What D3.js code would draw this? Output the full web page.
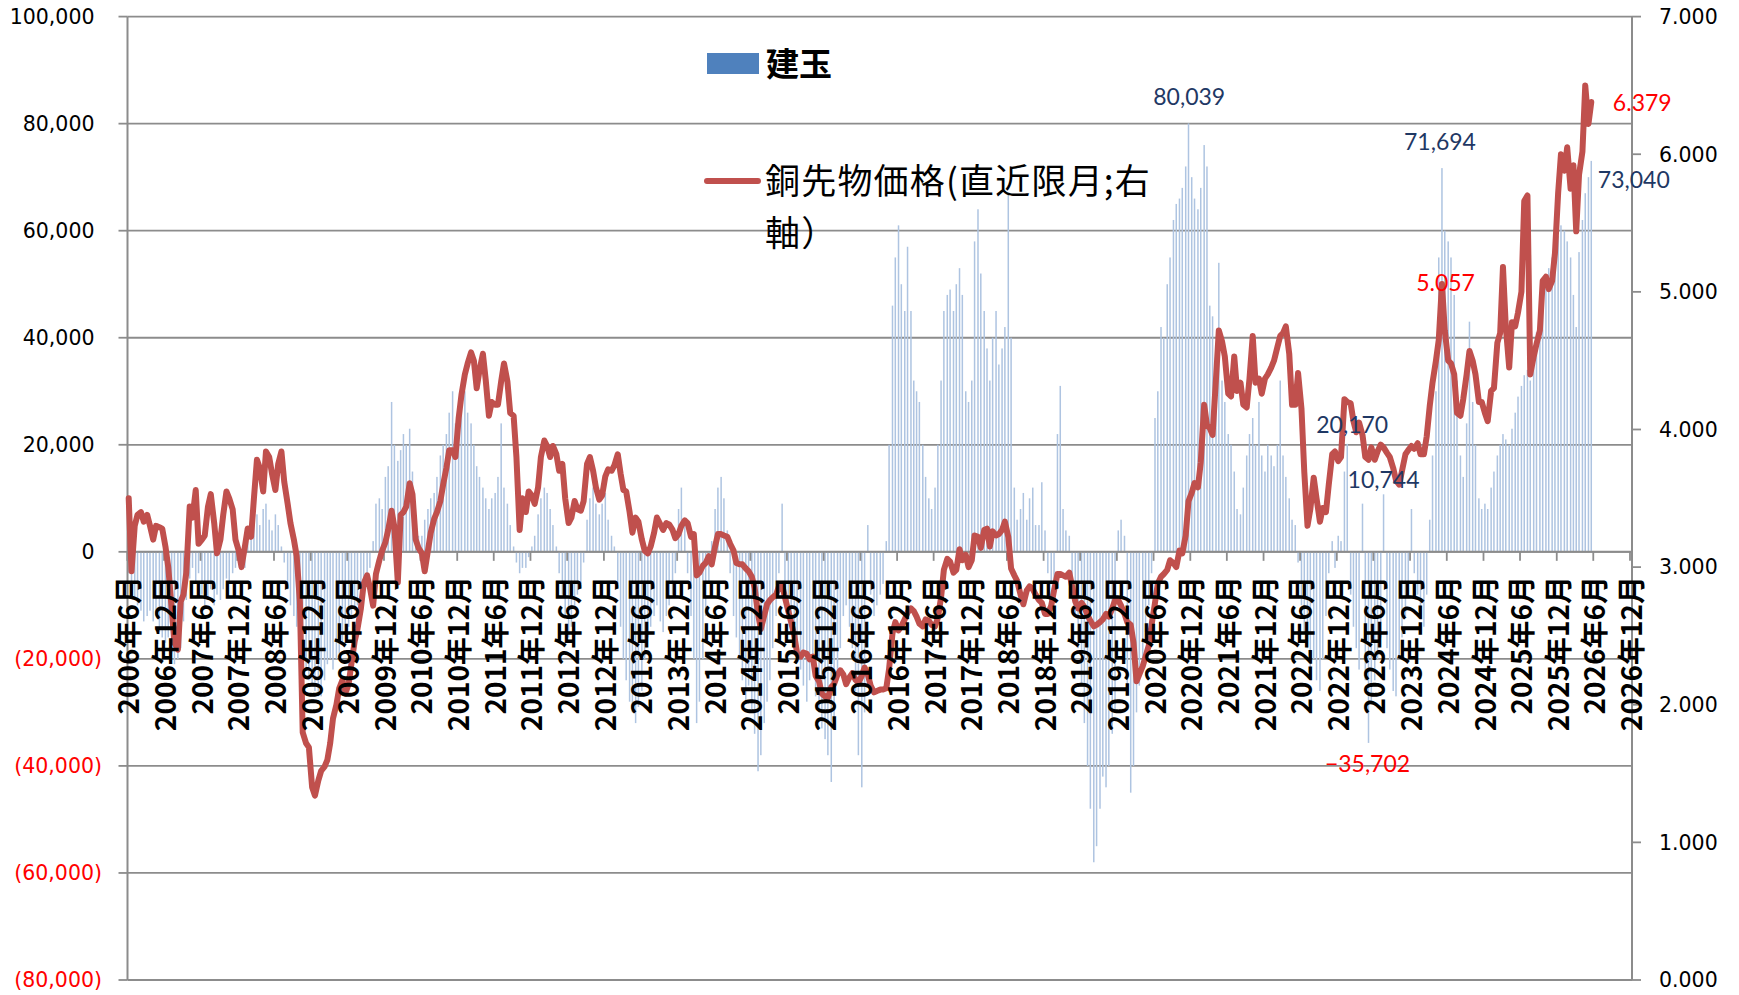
<!DOCTYPE html>
<html><head><meta charset="utf-8">
<script src="https://cdn.jsdelivr.net/npm/d3@7"></script>
<style>body{margin:0;background:#fff}svg{display:block}</style>
</head><body>
<svg id="chart" width="1739" height="995"></svg>
<script>
// ---- DATA: two readings per month (around the 8th and the 22nd), June 2006 .. May 2026 ----
// Copper futures price (nearest contract, right axis)
const priceY2006 = [3.50,2.97,3.30,3.38,3.40,3.33,3.38,3.30,3.20,3.30,3.29,3.28,3.15,3.00];
const priceY2007 = [2.70,2.45,2.40,2.75,2.80,2.96,3.44,3.36,3.56,3.17,3.20,3.23,3.44,3.53,3.32,3.10,3.20,3.38,3.55,3.50,3.42,3.20,3.12,3.00];
const priceY2008 = [3.15,3.28,3.22,3.50,3.78,3.72,3.55,3.84,3.80,3.68,3.56,3.75,3.84,3.62,3.46,3.32,3.20,3.08,2.75,1.80,1.72,1.69,1.40,1.34];
const priceY2009 = [1.45,1.52,1.55,1.60,1.72,1.90,2.00,2.12,2.18,2.08,2.15,2.30,2.46,2.55,2.70,2.88,2.94,2.85,2.72,2.95,3.05,3.12,3.18,3.27];
const priceY2010 = [3.41,3.29,2.89,3.38,3.40,3.44,3.61,3.53,3.20,3.14,3.10,2.97,3.12,3.25,3.35,3.40,3.48,3.60,3.72,3.85,3.85,3.80,4.08,4.25];
const priceY2011 = [4.40,4.48,4.56,4.50,4.30,4.43,4.55,4.36,4.10,4.20,4.18,4.18,4.35,4.48,4.35,4.12,4.10,3.80,3.27,3.50,3.40,3.55,3.52,3.46];
const priceY2012 = [3.58,3.80,3.92,3.88,3.80,3.88,3.82,3.70,3.75,3.50,3.32,3.36,3.48,3.42,3.41,3.48,3.75,3.80,3.70,3.58,3.49,3.52,3.66,3.71];
const priceY2013 = [3.70,3.74,3.82,3.68,3.56,3.55,3.40,3.25,3.36,3.33,3.20,3.12,3.10,3.15,3.25,3.36,3.31,3.27,3.32,3.31,3.27,3.21,3.24,3.30];
const priceY2014 = [3.34,3.32,3.22,3.24,2.94,2.96,3.01,3.03,3.08,3.02,3.15,3.24,3.24,3.23,3.22,3.17,3.12,3.03,3.02,3.02,2.99,2.97,2.93,2.85];
const priceY2015 = [2.66,2.55,2.65,2.73,2.76,2.78,2.80,2.86,2.87,2.78,2.68,2.60,2.50,2.37,2.35,2.38,2.37,2.33,2.35,2.21,2.17,2.08,2.06,2.05];
const priceY2016 = [2.13,2.15,2.22,2.25,2.22,2.15,2.20,2.23,2.18,2.16,2.21,2.27,2.22,2.14,2.09,2.10,2.11,2.11,2.12,2.26,2.52,2.60,2.54,2.57];
const priceY2017 = [2.62,2.67,2.70,2.68,2.64,2.59,2.57,2.62,2.61,2.58,2.57,2.63,2.78,2.98,3.06,3.04,2.96,2.98,3.13,3.05,3.09,3.00,3.05,3.23];
const priceY2018 = [3.22,3.14,3.27,3.28,3.15,3.26,3.23,3.24,3.27,3.33,3.22,2.99,2.94,2.90,2.80,2.73,2.83,2.86,2.84,2.80,2.76,2.74,2.66,2.66];
const priceY2019 = [2.72,2.83,2.95,2.95,2.94,2.93,2.96,2.86,2.75,2.70,2.74,2.71,2.65,2.61,2.57,2.58,2.60,2.62,2.66,2.64,2.70,2.76,2.76,2.72];
const priceY2020 = [2.66,2.60,2.58,2.45,2.17,2.22,2.28,2.35,2.43,2.58,2.74,2.88,2.93,2.95,2.98,3.05,3.03,3.00,3.12,3.10,3.23,3.48,3.54,3.61];
const priceY2021 = [3.58,3.76,4.18,4.03,4.01,3.96,4.37,4.72,4.64,4.53,4.26,4.24,4.53,4.28,4.34,4.18,4.16,4.37,4.68,4.34,4.37,4.26,4.37,4.40];
const priceY2022 = [4.45,4.50,4.60,4.68,4.70,4.75,4.55,4.18,4.18,4.41,4.15,3.69,3.30,3.42,3.65,3.50,3.33,3.43,3.40,3.60,3.82,3.84,3.77,3.80];
const priceY2023 = [4.22,4.20,4.19,4.06,3.98,4.05,3.96,3.80,3.78,3.87,3.78,3.84,3.89,3.87,3.83,3.80,3.72,3.63,3.60,3.70,3.82,3.85,3.88,3.86];
const priceY2024 = [3.90,3.82,3.82,3.95,4.17,4.34,4.50,4.65,5.057,4.72,4.50,4.48,4.40,4.12,4.10,4.22,4.40,4.57,4.50,4.40,4.20,4.20,4.12,4.06];
const priceY2025 = [4.28,4.30,4.63,4.70,5.18,4.75,4.45,4.78,4.75,4.85,5.00,5.66,5.70,4.40,4.53,4.62,4.72,5.08,5.11,5.02,5.08,5.28,5.72,6.00];
const priceY2026 = [5.88,6.05,5.75,5.92,5.44,5.85,6.02,6.50,6.22,6.379];

// Open position 建玉 (thousand contracts, left axis)
const posY2006 = [-4,-8,-9,-10,-11,-13,-12,-11,-13,-12,-15,-16,-17,-16];
const posY2007 = [-19,-21,-20,-18,-13,-9,-5,-3,-6,-4,-8,-10,-9,-7,-10,-8,-9,-7,-5,-6,-4,-3,-2,-1];
const posY2008 = [-3,2,5,9,7,5,8,9,6,4,7,5,1,-2,-7,-10,-12,-14,-18,-20,-22,-24,-25,-26];
const posY2009 = [-27,-27,-24,-21,-20,-22,-20,-19,-17,-15,-14,-12,-11,-10,-9,-7,-5,-3,2,9,10,8,14,16];
const posY2010 = [28,20,17,19,22,20,23,15,5,3,3,6,8,10,11,14,18,20,22,26,30,24,27,29];
const posY2011 = [30,26,24,20,16,14,12,10,8,10,11,14,24,12,9,5,1,-2,-4,-3,-3,-1,1,3];
const posY2012 = [7,10,12,11,8,5,1,-4,-8,-12,-16,-14,-10,-8,-6,-2,6,10,12,9,7,9,11,6];
const posY2013 = [3,1,-6,-14,-20,-24,-28,-30,-32,-29,-26,-20,-16,-14,-12,-10,-13,-15,-12,-10,-8,-4,8,12];
const posY2014 = [6,-4,-12,-20,-32,-28,-20,-12,-6,2,8,12,14,10,4,-4,-12,-16,-20,-24,-28,-25,-30,-34];
const posY2015 = [-41,-38,-32,-28,-24,-18,-12,-4,9,-6,-12,-15,-18,-20,-22,-25,-28,-24,-22,-27,-30,-33,-35,-38];
const posY2016 = [-43,-32,-24,-18,-12,-10,-14,-18,-26,-38,-44,-30,5,-8,-12,-10,-8,-6,2,20,46,55,61,50];
const posY2017 = [45,57,45,32,30,28,20,14,10,8,12,20,32,45,48,49,45,50,53,48,30,28,32,58];
const posY2018 = [64,52,45,38,32,40,45,35,38,42,67,40,12,6,8,11,6,10,12,5,5,13,4,-4];
const posY2019 = [-6,-9,22,31,8,4,3,-6,-12,-18,-25,-32,-40,-48,-58,-55,-48,-42,-44,-40,-34,-30,4,6];
const posY2020 = [3,-25,-45,-40,-30,-25,-20,-15,-10,-4,25,30,42,40,50,55,62,65,66,68,72,80.039,70,66];
const posY2021 = [64,68,76,72,46,44,30,54,32,28,22,20,15,8,7,12,18,22,25,20,28,18,15,20];
const posY2022 = [18,16,20,32,18,14,10,6,5,-2,-10,-15,-18,-22,-20,-24,-26,-20,-12,-4,2,-3,3,2];
const posY2023 = [15,20.17,-8,-14,-18,-22,9,-24,-35.702,-28,-24,-20,-16,10.744,-18,-22,-26,-27,-20,-16,-12,-8,8,-4];
const posY2024 = [-8,-12,-14,-8,6,18,30,55,71.694,60,58,55,48,32,18,14,24,43,28,20,10,8,9,8];
const posY2025 = [12,15,18,20,22,21,20,23,26,29,31,33,34,32,38,41,44,48,51,53,55,57,59,61];
const posY2026 = [60,58,55,48,42,56,62,67,70,73.04];

// Axis ticks
const leftTicksK = [-80,-60,-40,-20,0,20,40,60,80,100];
const rightTicks = [0,1,2,3,4,5,6,7];
const xTickCount = 42; // every 6 months from June 2006 to December 2026
const legendLabels = ["建玉", "銅先物価格(直近限月;右", "軸）"];

// Annotated points
const posLabels = [
  {value: 80.039, dx: 0.7, dy: -27, anchor: "middle", color: "#1F3864"},
  {value: 71.694, dx: -2, dy: -26.5, anchor: "middle", color: "#1F3864"},
  {value: 73.04, dx: 6.6, dy: 18.7, anchor: "start", color: "#1F3864"},
  {value: 20.17, dx: 5, dy: -19.5, anchor: "middle", color: "#1F3864"},
  {value: 10.744, dx: 0, dy: -14.5, anchor: "middle", color: "#1F3864"},
  {value: -35.702, dx: -1, dy: 21, anchor: "middle", color: "#FF0000"}
];
const priceLabels = [
  {value: 5.057, dx: 3.6, dy: -1, anchor: "middle"},
  {value: 6.379, dx: 21.6, dy: 1, anchor: "start"}
];

// ---- assemble series ----
const prices = [].concat(priceY2006,priceY2007,priceY2008,priceY2009,priceY2010,priceY2011,priceY2012,priceY2013,priceY2014,priceY2015,priceY2016,priceY2017,priceY2018,priceY2019,priceY2020,priceY2021,priceY2022,priceY2023,priceY2024,priceY2025,priceY2026);
const positions = [].concat(posY2006,posY2007,posY2008,posY2009,posY2010,posY2011,posY2012,posY2013,posY2014,posY2015,posY2016,posY2017,posY2018,posY2019,posY2020,posY2021,posY2022,posY2023,posY2024,posY2025,posY2026);
const dateAt = i => new Date(2006, 5 + Math.floor(i / 2), i % 2 ? 22 : 8);

// ---- layout ----
const L = 127.5, R = 1632, T = 16.6, B = 980;
const svg = d3.select("#chart");
const x = d3.scaleTime().domain([new Date(2006,5,1), new Date(2026,11,1)]).range([127.3, 1630]);
const yL = d3.scaleLinear().domain([-80, 100]).range([B, T]);
const yR = d3.scaleLinear().domain([0, 7]).range([B, T]);
const gridColor = "#8C8C8C";

// gridlines
svg.append("g").selectAll("line").data(leftTicksK).join("line")
  .attr("x1", L).attr("x2", R).attr("y1", d => yL(d)).attr("y2", d => yL(d))
  .attr("stroke", gridColor).attr("stroke-width", 1.8);

// bars
const y0 = yL(0);
svg.append("g").selectAll("rect").data(positions).join("rect")
  .attr("x", (d, i) => x(dateAt(i)) - 0.75)
  .attr("width", 1.5)
  .attr("y", d => Math.min(yL(d), y0))
  .attr("height", d => Math.abs(yL(d) - y0))
  .attr("fill", "#AEC4E1");

// axes lines & ticks
svg.append("line").attr("x1", L).attr("x2", L).attr("y1", T).attr("y2", B).attr("stroke", gridColor).attr("stroke-width", 2);
svg.append("line").attr("x1", R).attr("x2", R).attr("y1", T).attr("y2", B).attr("stroke", gridColor).attr("stroke-width", 2);
svg.append("line").attr("x1", L).attr("x2", R).attr("y1", y0).attr("y2", y0).attr("stroke", gridColor).attr("stroke-width", 2);
svg.append("g").selectAll("line").data(leftTicksK).join("line")
  .attr("x1", L - 9).attr("x2", L).attr("y1", d => yL(d)).attr("y2", d => yL(d))
  .attr("stroke", gridColor).attr("stroke-width", 1.8);
svg.append("g").selectAll("line").data(rightTicks).join("line")
  .attr("x1", R).attr("x2", R + 9).attr("y1", d => yR(d)).attr("y2", d => yR(d))
  .attr("stroke", gridColor).attr("stroke-width", 1.8);

const xTicks = d3.range(xTickCount).map(k => new Date(2006, 5 + 6 * k, 1));
svg.append("g").selectAll("line").data(xTicks).join("line")
  .attr("x1", d => x(d)).attr("x2", d => x(d)).attr("y1", y0).attr("y2", y0 + 9)
  .attr("stroke", gridColor).attr("stroke-width", 1.8);

// price line
const line = d3.line().x((d, i) => x(dateAt(i))).y(d => yR(d));
svg.append("path").datum(prices).attr("d", line)
  .attr("fill", "none").attr("stroke", "#C0504D").attr("stroke-width", 6)
  .attr("stroke-linejoin", "round").attr("stroke-linecap", "round");

// left axis labels
const fmt = d3.format(",");
svg.append("g").selectAll("text").data(leftTicksK).join("text")
  .attr("x", d => d < 0 ? 102 : 94.5).attr("y", d => yL(d)).attr("dy", "0.36em")
  .attr("text-anchor", "end")
  .attr("font-family", "'DejaVu Sans', Verdana, sans-serif").attr("font-size", 20.5)
  .attr("fill", d => d < 0 ? "#FF0000" : "#000")
  .text(d => d < 0 ? `(${fmt(-d * 1000)})` : fmt(d * 1000));

// right axis labels
svg.append("g").selectAll("text").data(rightTicks).join("text")
  .attr("x", 1659).attr("y", d => yR(d)).attr("dy", "0.36em")
  .attr("font-family", "'DejaVu Sans', Verdana, sans-serif").attr("font-size", 20.5)
  .attr("fill", "#000").text(d => d3.format(".3f")(d));

// x labels
svg.append("g").selectAll("text").data(xTicks).join("text")
  .attr("transform", d => `translate(${x(d)},576) rotate(-90)`)
  .attr("text-anchor", "end").attr("dominant-baseline", "central")
  .attr("font-family", "'Noto Sans CJK JP', sans-serif").attr("font-weight", "bold").attr("font-size", 28)
  .attr("fill", "#000")
  .text(d => `${d.getFullYear()}年${d.getMonth() + 1}月`);

// legend
svg.append("rect").attr("x", 707).attr("y", 53).attr("width", 52).attr("height", 21).attr("fill", "#4F81BD");
svg.append("text").attr("x", 766).attr("y", 75.5)
  .attr("font-family", "'Noto Sans CJK JP', sans-serif").attr("font-weight", "bold").attr("font-size", 33)
  .attr("fill", "#000").text(legendLabels[0]);
svg.append("line").attr("x1", 707).attr("x2", 758).attr("y1", 181).attr("y2", 181)
  .attr("stroke", "#C0504D").attr("stroke-width", 6).attr("stroke-linecap", "round");
const lineLegend = svg.append("text").attr("x", 765).attr("y", 194)
  .attr("font-family", "'Noto Sans CJK JP', sans-serif").attr("font-size", 35)
  .attr("letter-spacing", 1.2).attr("fill", "#000");
lineLegend.append("tspan").attr("x", 765).attr("y", 194).text(legendLabels[1]);
lineLegend.append("tspan").attr("x", 765).attr("y", 246).text(legendLabels[2]);

// data labels
const annFont = "Lato, 'Liberation Sans', sans-serif";
posLabels.forEach(a => {
  const i = positions.indexOf(a.value);
  svg.append("text")
    .attr("x", x(dateAt(i)) + a.dx).attr("y", yL(a.value) + a.dy).attr("dy", "0.36em")
    .attr("text-anchor", a.anchor).attr("font-family", annFont).attr("font-size", 23)
    .attr("fill", a.color).text(fmt(Math.round(a.value * 1000)));
});
priceLabels.forEach(a => {
  const i = prices.indexOf(a.value);
  svg.append("text")
    .attr("x", x(dateAt(i)) + a.dx).attr("y", yR(a.value) + a.dy).attr("dy", "0.36em")
    .attr("text-anchor", a.anchor).attr("font-family", annFont).attr("font-size", 23)
    .attr("fill", "#FF0000").text(d3.format(".3f")(a.value));
});
</script>
</body></html>
